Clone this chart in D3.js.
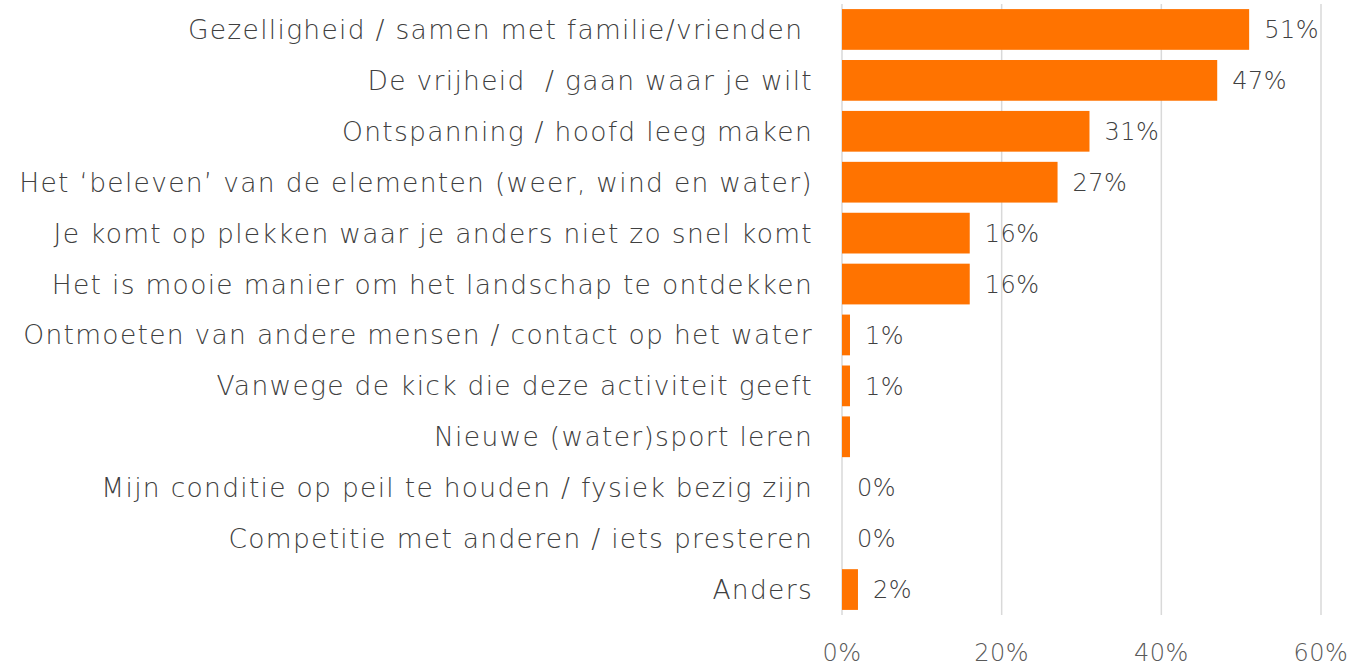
<!DOCTYPE html>
<html><head><meta charset="utf-8">
<script src="https://cdn.jsdelivr.net/npm/d3@7"></script>
<style>
body{margin:0;background:#fff;}
svg text{font-family:"DejaVu Sans",sans-serif;white-space:pre;}
</style></head>
<body><svg id="c" width="1349" height="666"></svg>
<script>
const categories = [
  "Gezelligheid / samen met familie/vrienden ",
  "De vrijheid  / gaan waar je wilt",
  "Ontspanning / hoofd leeg maken",
  "Het \u2018beleven\u2019 van de elementen (weer, wind en water)",
  "Je komt op plekken waar je anders niet zo snel komt",
  "Het is mooie manier om het landschap te ontdekken",
  "Ontmoeten van andere mensen / contact op het water",
  "Vanwege de kick die deze activiteit geeft",
  "Nieuwe (water)sport leren",
  "Mijn conditie op peil te houden / fysiek bezig zijn",
  "Competitie met anderen / iets presteren",
  "Anders"
];
const values = [51, 47, 31, 27, 16, 16, 1, 1, 1, 0, 0, 2];
const valueLabels = ["51%","47%","31%","27%","16%","16%","1%","1%","","0%","0%","2%"];
const ticks = [0, 20, 40, 60];
const tickLabels = ["0%","20%","40%","60%"];

const svg = d3.select("#c");
const x = d3.scaleLinear().domain([0,60]).range([842,1321]);
const y = d3.scaleBand().domain(categories).range([4,615]).paddingInner(0.2).paddingOuter(0.1);

svg.append("g").selectAll("line").data(ticks).join("line")
  .attr("x1",d=>x(d)).attr("x2",d=>x(d)).attr("y1",4).attr("y2",615)
  .attr("stroke","#d9d9d9").attr("stroke-width",1.5);

svg.append("g").selectAll("rect").data(values).join("rect")
  .attr("x",x(0)).attr("y",(d,i)=>y(categories[i]))
  .attr("width",d=>x(d)-x(0)).attr("height",y.bandwidth())
  .attr("fill","#ff7300");

svg.append("g").selectAll("text").data(values).join("text")
  .attr("x",d=>x(d)+15).attr("y",(d,i)=>y(categories[i])+y.bandwidth()/2)
  .attr("dy","0.36em").attr("font-size",24).attr("fill","#404040")
  .attr("font-weight",300).attr("letter-spacing",0.5)
  .text((d,i)=>valueLabels[i]);

svg.append("g").selectAll("text").data(categories).join("text")
  .attr("x",813).attr("y",d=>y(d)+y.bandwidth()/2).attr("dy","0.36em")
  .attr("text-anchor","end").attr("font-size",26.5).attr("fill","#404040")
  .attr("font-weight",300).attr("letter-spacing",1.3)
  .text(d=>d);

svg.append("g").selectAll("text").data(ticks).join("text")
  .attr("x",d=>x(d)).attr("y",652).attr("dy","0.36em").attr("text-anchor","middle")
  .attr("font-size",24).attr("fill","#595959").attr("font-weight",300).attr("letter-spacing",0.5)
  .text((d,i)=>tickLabels[i]);
</script></body></html>
